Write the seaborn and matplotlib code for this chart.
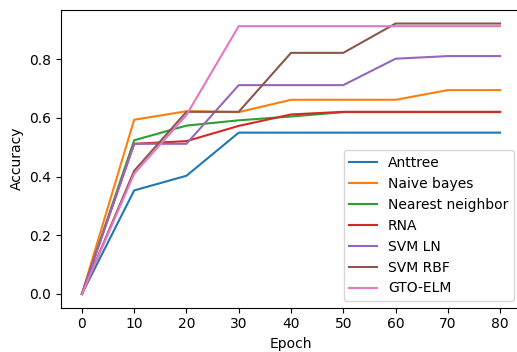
import matplotlib
matplotlib.use("Agg")
import matplotlib.pyplot as plt
import seaborn as sns
import pandas as pd

epochs = [0, 10, 20, 30, 40, 50, 60, 70, 80]
anttree = [0.0, 0.353, 0.403, 0.55, 0.55, 0.55, 0.55, 0.55, 0.55]
naive_bayes = [0.0, 0.594, 0.623, 0.62, 0.662, 0.662, 0.662, 0.695, 0.695]
nearest_neighbor = [0.0, 0.524, 0.574, 0.592, 0.605, 0.62, 0.62, 0.62, 0.62]
rna = [0.0, 0.512, 0.521, 0.573, 0.612, 0.621, 0.621, 0.621, 0.621]
svm_ln = [0.0, 0.512, 0.512, 0.712, 0.712, 0.712, 0.802, 0.811, 0.811]
svm_rbf = [0.0, 0.42, 0.621, 0.621, 0.822, 0.822, 0.922, 0.922, 0.922]
gto_elm = [0.0, 0.41, 0.61, 0.913, 0.913, 0.913, 0.913, 0.913, 0.913]

names = ["Anttree", "Naive bayes", "Nearest neighbor", "RNA", "SVM LN", "SVM RBF", "GTO-ELM"]
series = [anttree, naive_bayes, nearest_neighbor, rna, svm_ln, svm_rbf, gto_elm]

rows = []
for n, s in zip(names, series):
    for e, v in zip(epochs, s):
        rows.append({"Epoch": e, "Accuracy": v, "Model": n})
df = pd.DataFrame(rows)

fig = plt.figure(figsize=(5.17, 3.52), dpi=100)
ax = fig.add_axes([61/517, 44.5/352, 460/517, 297.5/352])
sns.lineplot(data=df, x="Epoch", y="Accuracy", hue="Model", hue_order=names,
             palette=sns.color_palette("tab10", 7), ax=ax, linewidth=1.5)
ax.set_xticks(epochs)
ax.set_xlabel("Epoch", fontsize=10)
ax.set_ylabel("Accuracy", fontsize=10)
ax.tick_params(labelsize=10)
ax.set_yticks([0.0, 0.2, 0.4, 0.6, 0.8])
ax.legend(loc="lower right", bbox_to_anchor=(514/517, 51/352),
          bbox_transform=fig.transFigure, borderaxespad=0, fontsize=10, title=None)
fig.savefig("out.png", dpi=100)
